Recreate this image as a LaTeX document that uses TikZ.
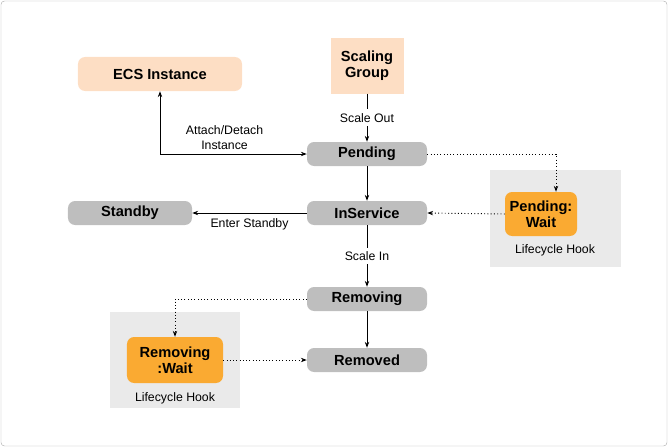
\documentclass[tikz,border=0pt]{standalone}
\usepackage{fontspec}
\setmainfont{Liberation Sans}
\usetikzlibrary{arrows.meta}
\definecolor{peach}{RGB}{253,222,196}
\definecolor{stategray}{RGB}{190,190,190}
\definecolor{hookgray}{RGB}{234,234,234}
\definecolor{hookorange}{RGB}{250,170,50}
\tikzset{
  state/.style={rounded corners=6pt, fill=stategray, minimum width=3.6cm, minimum height=0.72cm, font=\fontsize{12.5}{14}\selectfont\bfseries},
  source/.style={fill=peach, font=\fontsize{12.5}{14}\selectfont\bfseries, align=center},
  wait/.style={rounded corners=6pt, fill=hookorange, font=\fontsize{12.5}{14}\selectfont\bfseries, align=center},
  hook/.style={fill=hookgray},
  lbl/.style={font=\fontsize{10.5}{12.5}\selectfont, align=center},
  flow/.style={-{Stealth[length=5pt]}, thick},
  hookflow/.style={-{Stealth[length=5pt]}, dotted, thick}
}
\begin{document}
\begin{tikzpicture}[x=0.03cm, y=-0.03cm]
\useasboundingbox (0,0) rectangle (668,447);
\draw[gray!60, rounded corners=3pt] (1,1) rectangle (667,446);
% Hook backgrounds
\fill[hookgray] (490,170) rectangle (621,267);
\fill[hookgray] (110,312) rectangle (240,408);
% Nodes
\node[source, rounded corners=6pt, minimum width=4.92cm, minimum height=1.02cm] (ecs) at (160,74) {ECS Instance};
\node[source, minimum width=2.19cm, minimum height=1.65cm] (group) at (367,66) {Scaling\\Group};
\node[state] (pending) at (367,154) {Pending};
\node[state] (inservice) at (367,213) {InService};
\node[state, minimum width=3.72cm] (standby) at (130,213) {Standby};
\node[state] (removing) at (367,299) {Removing};
\node[state] (removed) at (367,360) {Removed};
\node[wait, minimum width=2.16cm, minimum height=1.32cm] (pwait) at (541,214) {Pending:\\Wait};
\node[wait, minimum width=2.88cm, minimum height=1.38cm] (rwait) at (175,360) {Removing\\:Wait};
\node[lbl] (phook) at (555,250) {Lifecycle Hook};
\node[lbl] (rhook) at (175,398) {Lifecycle Hook};
\coordinate (pcorner) at (556,154);
\coordinate (rcorner) at (175,299);
% Edges
\draw[flow] (group) -- node[lbl, fill=white] {Scale Out} (pending);
\draw[{Stealth[length=5pt]}-{Stealth[length=5pt]}, thick] (ecs.south) |- node[lbl, pos=0.72, above] {Attach/Detach\\Instance} (pending.west);
\draw[flow] (pending) -- (inservice);
\draw[flow] (inservice) -- node[lbl, below=1pt] {Enter Standby} (standby);
\draw[flow] (inservice) -- node[lbl, fill=white] {Scale In} (removing);
\draw[flow] (removing) -- (removed);
\draw[hookflow] (pending.east) -- (pcorner) -- (pwait.north -| pcorner);
\draw[hookflow] (pwait.west) -- (inservice.east);
\draw[hookflow] (removing.west) -- (rcorner) -- (rwait.north);
\draw[hookflow] (rwait.east) -- (removed.west);
\end{tikzpicture}
\end{document}
